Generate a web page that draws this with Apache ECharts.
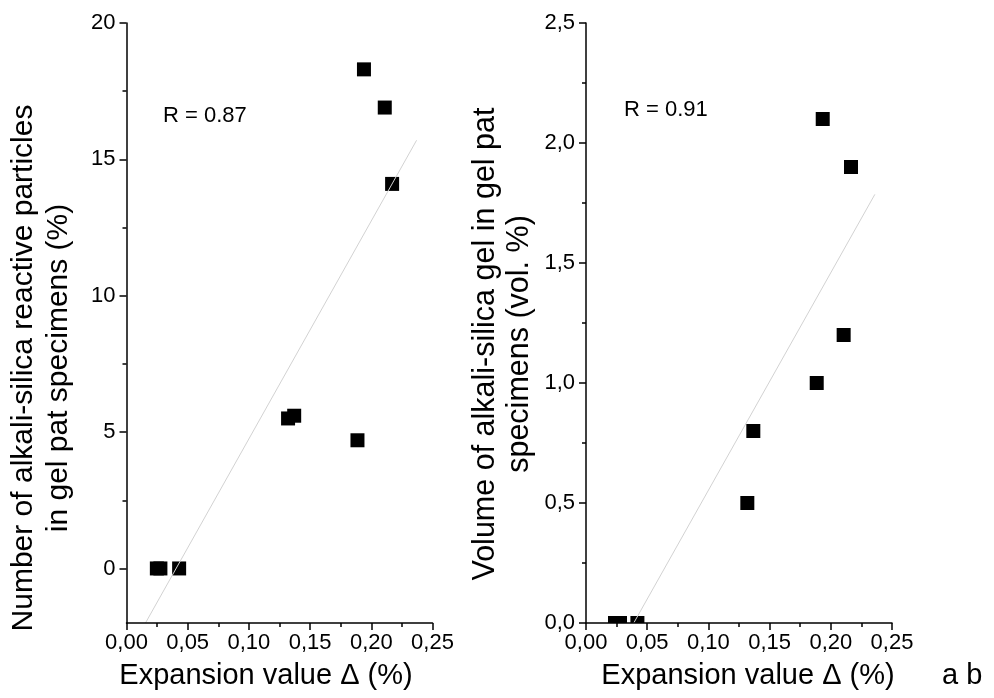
<!DOCTYPE html>
<html>
<head>
<meta charset="utf-8">
<script src="https://cdn.jsdelivr.net/npm/echarts@6/dist/echarts.min.js"></script>
<style>
html,body{margin:0;padding:0;background:#fff;}
#chart{width:994px;height:698px;}
</style>
</head>
<body>
<div id="chart"></div>
<script>
// ---- data ----
const xTicks = [0, 0.05, 0.10, 0.15, 0.20, 0.25];
const leftYTicks = [0, 5, 10, 15, 20];
const leftYMinorTicks = [2.5, 7.5, 12.5, 17.5];
const rightYTicks = [0, 0.5, 1.0, 1.5, 2.0, 2.5];

const leftX = [0.0248, 0.0277, 0.043, 0.132, 0.137, 0.1887, 0.194, 0.211, 0.217];
const leftY = [0, 0, 0, 5.5, 5.6, 4.7, 18.3, 16.9, 14.1];
const rightX = [0.0237, 0.0278, 0.042, 0.1318, 0.1367, 0.1885, 0.1934, 0.2105, 0.2165];
const rightY = [0, 0, 0, 0.5, 0.8, 1.0, 2.1, 1.2, 1.9];

const leftFitX = [0.0155, 0.237];
const leftFitY = [-2, 15.7];
const rightFitX = [0.039, 0.236];
const rightFitY = [0, 1.786];

const leftR = 'R = 0.87';
const rightR = 'R = 0.91';
const xTitle = 'Expansion value \u0394 (%)';
const leftTitle = ['Number of alkali-silica reactive particles', 'in gel pat specimens (%)'];
const rightTitle = ['Volume of alkali-silica gel in gel pat', 'specimens (vol. %)'];

// ---- chart ----
const FONT = '"Liberation Sans", Arial, sans-serif';
const chart = echarts.init(document.getElementById('chart'), null, {renderer: 'canvas'});
const pairs = (xs, ys) => xs.map((x, i) => [x, ys[i]]);
const comma = d => v => v.toFixed(d).replace('.', ',');

const axisLine = {show: true, onZero: false, lineStyle: {color: '#000', width: 1.5}};
const labelStyle = {color: '#000', fontSize: 22, fontFamily: FONT};

function xAxis(gi) {
  return {
    type: 'value', gridIndex: gi, min: 0, max: 0.25, interval: 0.05,
    axisLine: axisLine,
    axisTick: {show: true, length: 7, lineStyle: {color: '#000', width: 1.5}},
    minorTick: {show: true, splitNumber: 2, length: 4, lineStyle: {color: '#000', width: 1.5}},
    axisLabel: Object.assign({margin: 9, customValues: xTicks, formatter: comma(2)}, labelStyle),
    splitLine: {show: false}, minorSplitLine: {show: false}, z: 10
  };
}

function squareRenderer(params, api) {
  const p = api.coord([api.value(0), api.value(1)]);
  const s = 14;
  const cs = params.coordSys;
  const r = echarts.graphic.clipRectByRect(
    {x: p[0] - s / 2, y: p[1] - s / 2, width: s, height: s},
    {x: cs.x, y: cs.y, width: cs.width, height: cs.height}
  );
  if (!r) return null;
  return {type: 'rect', shape: r, style: {fill: '#000'}};
}

function textEl(text, x, y, size, rot, align) {
  return {
    type: 'text', x: x, y: y, rotation: rot || 0,
    style: {
      text: text, font: size + 'px ' + FONT, fill: '#000',
      align: align || 'center', textAlign: align || 'center',
      verticalAlign: 'middle', textVerticalAlign: 'middle'
    },
    silent: true
  };
}

const option = {
  backgroundColor: '#fff',
  animation: false,
  grid: [
    {left: 126.5, top: 23, width: 306, height: 600},
    {left: 586, top: 23, width: 306, height: 600}
  ],
  xAxis: [xAxis(0), xAxis(1)],
  yAxis: [
    {
      type: 'value', gridIndex: 0, min: -2, max: 20,
      axisLine: axisLine,
      axisTick: {show: true, length: 7, customValues: leftYTicks, lineStyle: {color: '#000', width: 1.5}},
      axisLabel: Object.assign({margin: 11, customValues: leftYTicks}, labelStyle),
      splitLine: {show: false}, z: 10
    },
    {
      type: 'value', gridIndex: 0, min: -2, max: 20, position: 'left',
      axisLine: {show: false},
      axisTick: {show: true, length: 4, customValues: leftYMinorTicks, lineStyle: {color: '#000', width: 1.5}},
      axisLabel: {show: false},
      splitLine: {show: false}, z: 10
    },
    {
      type: 'value', gridIndex: 1, min: 0, max: 2.5, interval: 0.5,
      axisLine: axisLine,
      axisTick: {show: true, length: 7, lineStyle: {color: '#000', width: 1.5}},
      minorTick: {show: true, splitNumber: 2, length: 4, lineStyle: {color: '#000', width: 1.5}},
      axisLabel: Object.assign({margin: 11, customValues: rightYTicks, formatter: comma(1)}, labelStyle),
      splitLine: {show: false}, minorSplitLine: {show: false}, z: 10
    }
  ],
  series: [
    {
      type: 'custom', xAxisIndex: 0, yAxisIndex: 0, renderItem: squareRenderer,
      encode: {x: 0, y: 1}, data: pairs(leftX, leftY), z: 3
    },
    {
      type: 'line', xAxisIndex: 0, yAxisIndex: 0, data: pairs(leftFitX, leftFitY),
      showSymbol: false, symbol: 'none', silent: true, z: 4,
      lineStyle: {color: '#d2d2d2', width: 1}
    },
    {
      type: 'custom', xAxisIndex: 1, yAxisIndex: 2, renderItem: squareRenderer,
      encode: {x: 0, y: 1}, data: pairs(rightX, rightY), z: 3
    },
    {
      type: 'line', xAxisIndex: 1, yAxisIndex: 2, data: pairs(rightFitX, rightFitY),
      showSymbol: false, symbol: 'none', silent: true, z: 4,
      lineStyle: {color: '#d2d2d2', width: 1}
    }
  ],
  graphic: [
    textEl(leftR, 163, 116, 22, 0, 'left'),
    textEl(rightR, 624, 110, 22, 0, 'left'),
    textEl(xTitle, 266, 676, 29),
    textEl(xTitle, 748, 676, 29),
    textEl('a b', 942, 676, 29, 0, 'left'),
    textEl(leftTitle[0], 24, 368, 30, Math.PI / 2),
    textEl(leftTitle[1], 59, 368, 30, Math.PI / 2),
    textEl(rightTitle[0], 486, 344, 30.5, Math.PI / 2),
    textEl(rightTitle[1], 520, 344, 30.5, Math.PI / 2)
  ]
};
chart.setOption(option);
</script>
</body>
</html>
